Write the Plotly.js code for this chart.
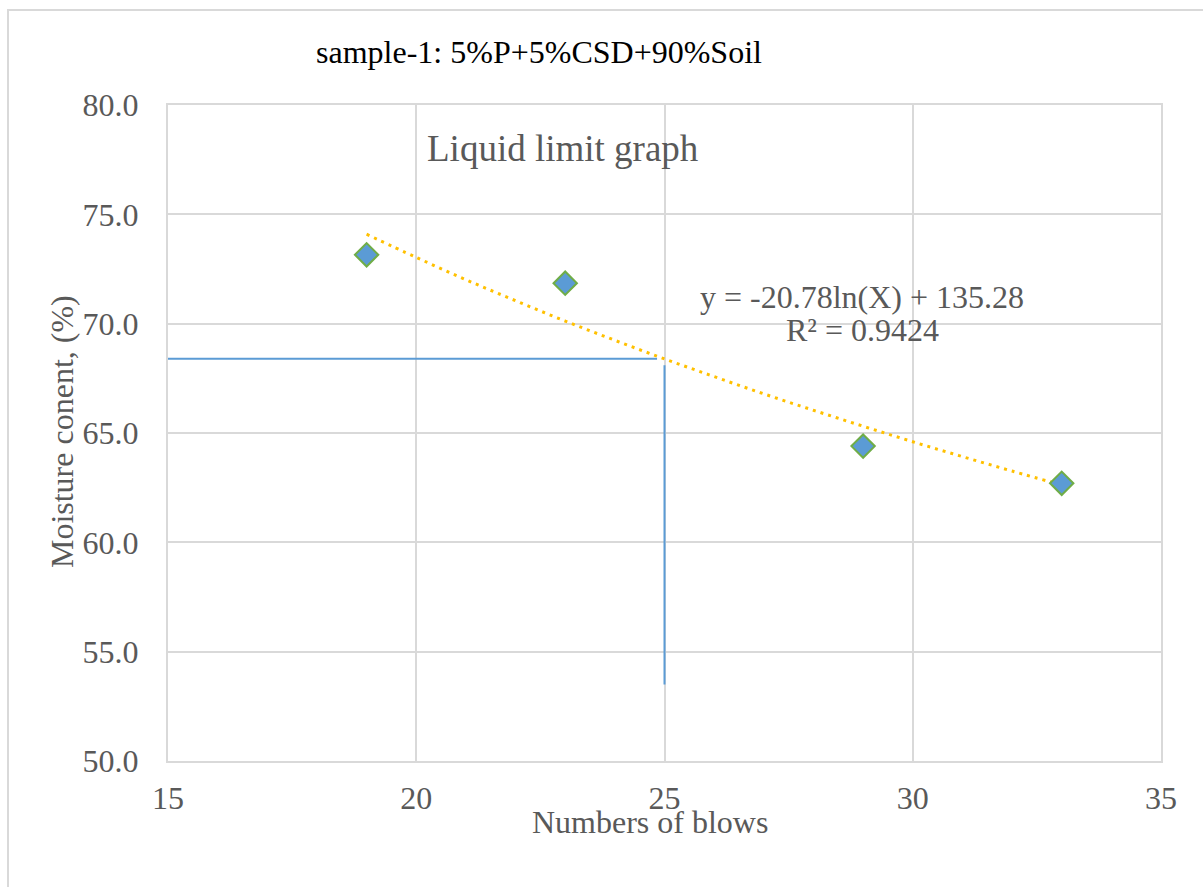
<!DOCTYPE html>
<html>
<head>
<meta charset="utf-8">
<script src="https://cdn.plot.ly/plotly-3.0.1.min.js"></script>
<style>
html,body{margin:0;padding:0;background:#fff;overflow:hidden;}
#frame{position:absolute;left:7px;top:9px;width:1250px;height:950px;border:2px solid #d9d9d9;box-sizing:border-box;pointer-events:none;z-index:5;}
#chart{position:absolute;left:0;top:0;width:1203px;height:887px;}
</style>
</head>
<body>
<div id="chart"></div>
<div id="frame"></div>
<script>
// Data points
const blows = [19, 23, 29, 33];
const moisture = [73.15, 71.85, 64.4, 62.7];

// Logarithmic trendline values (y = -20.78ln(x) + 135.28)
const trendX = [19, 20, 21, 22, 23, 24, 25, 26, 27, 28, 29, 30, 31, 32, 33];
const trendY = [74.09, 73.03, 72.01, 71.05, 70.12, 69.24, 68.39, 67.58, 66.79, 66.04, 65.31, 64.60, 63.92, 63.26, 62.62];

// Liquid-limit guide lines
const guideHX = [15, 24.85];
const guideHY = [68.4, 68.4];
const guideVX = [25, 25];
const guideVY = [68.1, 53.5];

const xTicks = [15, 20, 25, 30, 35];
const yTicks = [50, 55, 60, 65, 70, 75, 80];

const serif = '"Liberation Serif", "Times New Roman", serif';
const grey = '#595959';

const traces = [
  {x: guideHX, y: guideHY, mode: 'lines', line: {color: '#5B9BD5', width: 2}, hoverinfo: 'skip', showlegend: false},
  {x: guideVX, y: guideVY, mode: 'lines', line: {color: '#5B9BD5', width: 2}, hoverinfo: 'skip', showlegend: false},
  {x: trendX, y: trendY, mode: 'lines', line: {color: '#FFC000', width: 3, dash: '3px,5px', shape: 'spline'}, showlegend: false},
  {x: blows, y: moisture, mode: 'markers', marker: {symbol: 'diamond', size: 18, color: '#5B9BD5', line: {color: '#70AD47', width: 2}}, showlegend: false}
];

const layout = {
  width: 1203, height: 887,
  margin: {l: 168, r: 42, t: 105, b: 126},
  paper_bgcolor: '#ffffff', plot_bgcolor: '#ffffff',
  font: {family: serif, color: grey, size: 32},
  title: {text: 'sample-1: 5%P+5%CSD+90%Soil', font: {family: serif, size: 32, color: '#000000'}, x: 539/1203, xanchor: 'center', y: 1 - 52/887, yanchor: 'middle'},
  xaxis: {
    range: [15, 35], tickvals: xTicks, ticktext: xTicks.map(String),
    showgrid: true, gridcolor: '#d9d9d9', gridwidth: 2,
    showline: true, linecolor: '#d9d9d9', linewidth: 2, mirror: true,
    zeroline: false, ticks: '', ticklabelstandoff: 8,
    tickfont: {family: serif, size: 32, color: grey}
  },
  yaxis: {
    range: [50, 80], tickvals: yTicks, ticktext: yTicks.map(v => v.toFixed(1)),
    showgrid: true, gridcolor: '#d9d9d9', gridwidth: 2,
    showline: true, linecolor: '#d9d9d9', linewidth: 2, mirror: true,
    zeroline: false, ticks: '', ticklabelstandoff: 21,
    tickfont: {family: serif, size: 32, color: grey}
  },
  annotations: [
    {x: 22.96, y: 78.03, xref: 'x', yref: 'y', xanchor: 'center', yanchor: 'middle', text: 'Liquid limit graph', showarrow: false, font: {family: serif, size: 37, color: grey}},
    {x: 28.98, y: 71.22, xref: 'x', yref: 'y', xanchor: 'center', yanchor: 'middle', text: 'y = -20.78ln(X) + 135.28', showarrow: false, font: {family: serif, size: 32, color: grey}},
    {x: 28.98, y: 69.71, xref: 'x', yref: 'y', xanchor: 'center', yanchor: 'middle', text: 'R² = 0.9424', showarrow: false, font: {family: serif, size: 32, color: grey}},
    {x: 0.485, y: -0.093, xref: 'paper', yref: 'paper', xanchor: 'center', yanchor: 'middle', text: 'Numbers of blows', showarrow: false, font: {family: serif, size: 32, color: grey}},
    {x: -0.1067, y: 0.5015, xref: 'paper', yref: 'paper', xanchor: 'center', yanchor: 'middle', text: 'Moisture conent, (%)', textangle: -90, showarrow: false, font: {family: serif, size: 32, color: grey}}
  ]
};

Plotly.newPlot('chart', traces, layout, {displayModeBar: false, staticPlot: true});
</script>
</body>
</html>
